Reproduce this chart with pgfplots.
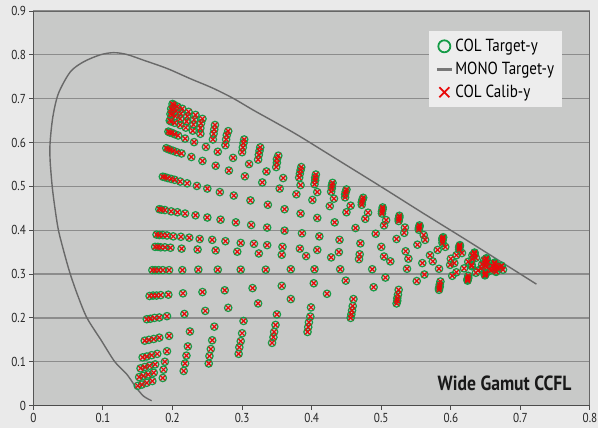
\documentclass[border=0pt]{standalone}
\usepackage{fontspec}
\setmainfont{PT Sans}[FakeStretch=0.86]
\usepackage{pgfplots}
\usepackage{pgfplotstable}
\pgfplotsset{compat=1.18}

\definecolor{bgout}{RGB}{234,234,234}
\definecolor{bgplot}{RGB}{200,201,200}
\definecolor{gridc}{RGB}{140,140,140}
\definecolor{legbg}{RGB}{237,237,237}
\definecolor{colGreen}{RGB}{20,155,70}
\definecolor{colRed}{RGB}{232,10,10}
\definecolor{monoGray}{RGB}{105,105,105}

% colour targets, x y
\pgfplotstableread{
x y
0.150 0.045
0.156 0.048
0.163 0.052
0.171 0.056
0.186 0.063
0.216 0.079
0.252 0.096
0.295 0.118
0.343 0.143
0.394 0.168
0.456 0.200
0.522 0.233
0.583 0.264
0.624 0.285
0.649 0.297
0.665 0.305
0.675 0.310
0.152 0.065
0.158 0.068
0.165 0.071
0.173 0.075
0.187 0.082
0.218 0.096
0.253 0.113
0.296 0.133
0.345 0.156
0.395 0.179
0.457 0.208
0.523 0.239
0.583 0.268
0.624 0.287
0.649 0.299
0.665 0.306
0.154 0.085
0.160 0.088
0.167 0.091
0.175 0.094
0.189 0.100
0.220 0.114
0.255 0.129
0.298 0.147
0.346 0.168
0.396 0.190
0.458 0.217
0.523 0.245
0.584 0.271
0.624 0.289
0.650 0.300
0.157 0.110
0.163 0.112
0.170 0.115
0.178 0.118
0.192 0.124
0.222 0.135
0.257 0.149
0.300 0.165
0.348 0.184
0.398 0.203
0.459 0.227
0.524 0.253
0.584 0.276
0.625 0.291
0.650 0.301
0.160 0.148
0.166 0.150
0.173 0.152
0.181 0.155
0.195 0.159
0.225 0.169
0.260 0.180
0.302 0.193
0.350 0.208
0.399 0.224
0.460 0.243
0.525 0.264
0.585 0.283
0.625 0.296
0.650 0.303
0.163 0.197
0.168 0.198
0.174 0.200
0.181 0.201
0.192 0.204
0.217 0.209
0.247 0.216
0.280 0.223
0.323 0.233
0.370 0.243
0.422 0.255
0.489 0.270
0.551 0.284
0.602 0.296
0.636 0.303
0.657 0.308
0.167 0.250
0.172 0.251
0.177 0.251
0.183 0.252
0.194 0.253
0.215 0.256
0.243 0.259
0.275 0.263
0.315 0.268
0.357 0.273
0.403 0.279
0.449 0.285
0.506 0.292
0.562 0.299
0.608 0.304
0.639 0.308
0.659 0.310
0.171 0.309
0.175 0.309
0.180 0.309
0.186 0.309
0.195 0.309
0.214 0.309
0.237 0.310
0.265 0.310
0.298 0.310
0.334 0.310
0.370 0.311
0.404 0.311
0.441 0.311
0.487 0.311
0.537 0.312
0.583 0.312
0.619 0.313
0.644 0.313
0.662 0.313
0.175 0.362
0.179 0.362
0.183 0.361
0.189 0.361
0.197 0.360
0.213 0.358
0.236 0.356
0.262 0.354
0.293 0.351
0.324 0.347
0.357 0.344
0.392 0.341
0.428 0.338
0.468 0.334
0.513 0.329
0.559 0.325
0.599 0.321
0.630 0.318
0.652 0.316
0.667 0.314
0.177 0.390
0.181 0.389
0.186 0.389
0.192 0.388
0.201 0.386
0.212 0.385
0.224 0.383
0.239 0.380
0.257 0.378
0.276 0.375
0.298 0.371
0.317 0.369
0.336 0.366
0.358 0.362
0.383 0.358
0.408 0.355
0.439 0.350
0.469 0.345
0.504 0.340
0.539 0.335
0.574 0.329
0.605 0.325
0.630 0.321
0.650 0.318
0.665 0.315
0.181 0.448
0.184 0.447
0.189 0.446
0.198 0.443
0.207 0.441
0.218 0.438
0.233 0.434
0.250 0.429
0.269 0.424
0.291 0.418
0.313 0.412
0.336 0.406
0.361 0.399
0.386 0.393
0.411 0.386
0.440 0.378
0.470 0.370
0.500 0.362
0.535 0.352
0.570 0.343
0.600 0.335
0.625 0.328
0.645 0.322
0.660 0.318
0.670 0.316
0.186 0.522
0.189 0.521
0.193 0.519
0.198 0.517
0.203 0.515
0.211 0.511
0.221 0.507
0.235 0.501
0.250 0.495
0.268 0.487
0.288 0.479
0.312 0.468
0.337 0.458
0.361 0.448
0.384 0.438
0.408 0.428
0.433 0.418
0.463 0.405
0.492 0.392
0.522 0.380
0.552 0.367
0.581 0.355
0.608 0.343
0.631 0.334
0.650 0.326
0.665 0.319
0.191 0.587
0.194 0.585
0.197 0.583
0.201 0.581
0.206 0.578
0.213 0.575
0.227 0.567
0.243 0.558
0.262 0.547
0.281 0.536
0.304 0.523
0.329 0.509
0.354 0.495
0.378 0.482
0.401 0.469
0.426 0.455
0.450 0.441
0.477 0.426
0.504 0.411
0.533 0.394
0.563 0.378
0.592 0.362
0.616 0.348
0.636 0.337
0.653 0.327
0.665 0.320
0.194 0.625
0.196 0.623
0.199 0.622
0.203 0.619
0.208 0.616
0.218 0.609
0.231 0.601
0.248 0.590
0.265 0.579
0.287 0.565
0.310 0.551
0.335 0.534
0.359 0.519
0.384 0.503
0.408 0.487
0.432 0.472
0.456 0.456
0.481 0.440
0.507 0.423
0.534 0.406
0.561 0.389
0.588 0.371
0.612 0.356
0.631 0.343
0.648 0.332
0.663 0.323
0.196 0.650
0.198 0.648
0.203 0.645
0.211 0.640
0.219 0.634
0.229 0.627
0.240 0.620
0.258 0.607
0.276 0.594
0.300 0.578
0.323 0.561
0.349 0.544
0.382 0.520
0.404 0.505
0.428 0.488
0.448 0.475
0.472 0.458
0.501 0.438
0.525 0.421
0.554 0.401
0.588 0.377
0.612 0.360
0.634 0.345
0.651 0.333
0.663 0.325
0.673 0.318
0.197 0.665
0.199 0.663
0.204 0.660
0.211 0.654
0.220 0.648
0.230 0.641
0.240 0.633
0.259 0.620
0.277 0.607
0.301 0.589
0.324 0.572
0.350 0.554
0.383 0.529
0.405 0.514
0.429 0.496
0.448 0.482
0.472 0.464
0.501 0.443
0.525 0.426
0.554 0.405
0.588 0.380
0.612 0.362
0.634 0.346
0.651 0.334
0.198 0.677
0.200 0.675
0.205 0.672
0.212 0.666
0.221 0.660
0.231 0.652
0.241 0.644
0.260 0.630
0.278 0.617
0.302 0.599
0.325 0.581
0.350 0.562
0.384 0.537
0.405 0.520
0.429 0.502
0.449 0.488
0.473 0.470
0.502 0.448
0.526 0.429
0.555 0.408
0.588 0.382
0.613 0.364
0.634 0.348
0.651 0.335
0.200 0.688
0.202 0.686
0.207 0.682
0.214 0.677
0.223 0.670
0.233 0.663
0.243 0.654
0.261 0.640
0.280 0.626
0.303 0.607
0.326 0.589
0.352 0.570
0.385 0.544
0.406 0.527
0.430 0.508
0.450 0.493
0.474 0.474
0.502 0.452
0.526 0.433
0.555 0.411
0.589 0.384
0.613 0.366
0.634 0.349
0.651 0.336
0.663 0.326
0.673 0.319
}\colpoints

% monochromatic target curve
\pgfplotstableread{
x y
0.170 0.011
0.158 0.022
0.146 0.045
0.134 0.072
0.117 0.100
0.097 0.150
0.077 0.200
0.064 0.250
0.053 0.300
0.044 0.350
0.036 0.400
0.031 0.450
0.027 0.500
0.024 0.560
0.024 0.600
0.028 0.659
0.036 0.712
0.053 0.761
0.072 0.784
0.096 0.800
0.115 0.805
0.134 0.801
0.158 0.788
0.192 0.769
0.225 0.746
0.258 0.724
0.287 0.701
0.316 0.674
0.350 0.644
0.383 0.614
0.441 0.557
0.500 0.499
0.560 0.439
0.620 0.380
0.680 0.320
0.723 0.277
}\monopoints

\begin{document}
\begin{tikzpicture}[x=1pt,y=1pt]
\useasboundingbox (0,0) rectangle (598,428);
\fill[bgout] (0,0) rectangle (598,428);
\begin{axis}[
    at={(33.4pt,22.4pt)}, anchor=south west,
    width=556.6pt, height=394.6pt, scale only axis,
    xmin=0, xmax=0.8, ymin=0, ymax=0.9,
    xtick={0,0.1,0.2,0.3,0.4,0.5,0.6,0.7,0.8},
    ytick={0,0.1,0.2,0.3,0.4,0.5,0.6,0.7,0.8,0.9},
    /pgf/number format/assume math mode=true,
    ticklabel style={font=\fontsize{13}{15}\selectfont, text=black!85},
    tick align=outside, tick pos=left,
    major tick length=4pt,
    tick style={black!70, line width=1pt},
    ymajorgrids,
    major grid style={gridc, line width=1.2pt},
    axis background/.style={fill=bgplot},
    axis line style={gray!80!black, line width=1pt},
    legend style={at={(0.711,0.949)}, anchor=north west, draw=none, fill=legbg,
        inner xsep=6pt, inner ysep=6pt, row sep=5pt,
        font=\fontsize{17.5}{20}\selectfont, cells={anchor=west}},
]
\addlegendimage{legend image code/.code={\draw[colGreen, line width=1.8pt] (7.5pt,0pt) circle (6pt);}}
\addlegendentry{COL Target-y}
\addlegendimage{legend image code/.code={\draw[monoGray!90, line width=3pt] (0pt,0pt) -- (15pt,0pt);}}
\addlegendentry{MONO Target-y}
\addlegendimage{legend image code/.code={\draw[colRed, line width=1.8pt] (2.5pt,-5pt) -- (12.5pt,5pt) (2.5pt,5pt) -- (12.5pt,-5pt);}}
\addlegendentry{COL Calib-y}

\addplot[forget plot, monoGray, line width=1.4pt, smooth] table[x=x, y=y] {\monopoints};
\addplot[forget plot, only marks, mark=o, mark size=3.7pt,
    mark options={draw=colGreen, line width=1.2pt}] table[x=x, y=y] {\colpoints};
\addplot[forget plot, only marks, mark=x, mark size=3.3pt,
    mark options={draw=colRed, line width=1.2pt}] table[x=x, y=y] {\colpoints};

\draw[black!70, line width=1.6pt] (rel axis cs:0,1) -- (rel axis cs:0,0) -- (rel axis cs:1,0);
\node[anchor=base east, font=\fontsize{20.5}{24}\selectfont\bfseries, text=black!90]
    at (rel axis cs:0.973,0.037) {Wide Gamut CCFL};
\end{axis}
\end{tikzpicture}
\end{document}
